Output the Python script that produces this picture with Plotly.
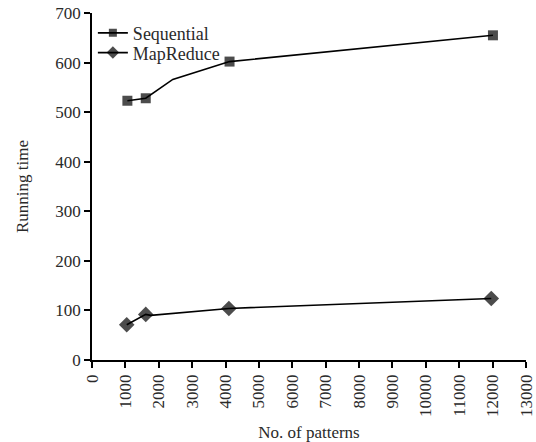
import plotly.graph_objects as go

seq_x = [1060, 1610, 2420, 4120, 12010]
seq_y = [523, 528, 566, 602, 655]
seq_marker = [10, 10, 0, 10, 10]

mr_x = [1040, 1610, 1760, 4100, 11960]
mr_y = [71, 92, 90, 104, 124]
mr_marker = [12, 12, 0, 12, 12]

x_ticks = list(range(0, 13001, 1000))
y_ticks = list(range(0, 701, 100))

font_family = "Liberation Serif"
txt = "#2a2a2a"

fig = go.Figure()
fig.add_trace(go.Scatter(
    x=seq_x, y=seq_y, mode="lines+markers", name="Sequential", legend="legend",
    line=dict(color="#000000", width=1.6),
    marker=dict(symbol="square", size=seq_marker, color="#000000", line=dict(width=0)),
))
fig.add_trace(go.Scatter(
    x=mr_x, y=mr_y, mode="lines+markers", name="MapReduce", legend="legend2",
    line=dict(color="#000000", width=1.6),
    marker=dict(symbol="diamond", size=mr_marker, color="#000000", line=dict(width=0)),
))

axis_common = dict(
    showgrid=False, zeroline=False, showline=True, linecolor="#000000", linewidth=1.6,
    ticks="outside", ticklen=6, tickwidth=1.6, tickcolor="#000000",
    tickfont=dict(family=font_family, size=17, color=txt),
    title_font=dict(family=font_family, size=17, color=txt),
    ticklabeloverflow="allow", automargin=False,
)

legend_common = dict(xanchor="left", yanchor="middle", bgcolor="rgba(0,0,0,0)",
                     font=dict(family=font_family, size=18, color=txt), itemwidth=30)

fig.update_layout(
    width=536, height=442,
    margin=dict(l=92, r=10, t=13, b=82),
    paper_bgcolor="white", plot_bgcolor="white",
    font=dict(family=font_family, size=17, color=txt),
    showlegend=True,
    legend=dict(x=0.002, y=0.942, **legend_common),
    legend2=dict(x=0.002, y=0.885, **legend_common),
    xaxis=dict(range=[0, 13000], tickvals=x_ticks, ticktext=[str(v) for v in x_ticks],
               tickangle=-90, title=dict(text="No. of patterns", standoff=10), **axis_common),
    yaxis=dict(range=[0, 700], tickvals=y_ticks, ticktext=[str(v) for v in y_ticks],
               title=dict(text="Running time", standoff=22), **axis_common),
)

fig.write_html("out.html")
